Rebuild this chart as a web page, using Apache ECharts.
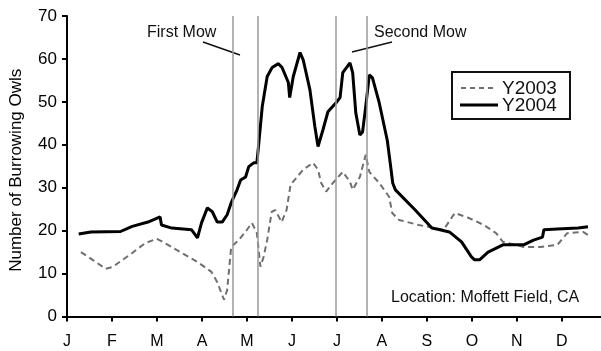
<!DOCTYPE html>
<html>
<head>
<meta charset="utf-8">
<script src="https://cdn.jsdelivr.net/npm/echarts@6/dist/echarts.min.js"></script>
<style>
html,body{margin:0;padding:0;background:#fff;}
#c{width:601px;height:351px;}
</style>
</head>
<body>
<div id="c"></div>
<script>
// Month tick labels (x axis in months since Jan 1)
const monthLabels = ['J','F','M','A','M','J','J','A','S','O','N','D'];
// Y2004 (solid)
const months2004 = [0.26,0.53,1.19,1.45,1.8,2.07,2.1,2.33,2.77,2.9,2.99,3.12,3.23,3.34,3.45,3.56,3.65,3.78,3.86,3.97,4.04,4.15,4.22,4.26,4.34,4.45,4.56,4.70,4.78,4.92,4.95,5.03,5.18,5.25,5.4,5.51,5.58,5.69,5.80,5.98,6.07,6.13,6.29,6.35,6.42,6.51,6.57,6.64,6.72,6.79,6.94,7.12,7.2,7.24,7.30,7.74,8.11,8.29,8.5,8.77,8.99,9.06,9.17,9.36,9.69,10.15,10.37,10.57,10.6,10.9,11.36,11.58];
const owls2004   = [19.2,19.7,19.8,21.0,22,23.2,21.3,20.6,20.2,18.3,21.8,25.3,24.4,22,22,23.7,26.5,29.5,31.8,32.5,34.9,35.8,35.8,40,48.9,55.9,58,58.9,58,54.5,51,55.9,61.5,59.8,52.8,44.2,39.6,43.5,47.7,49.8,51,56.8,59.1,56.8,47.4,42.3,43,48.9,56.3,55.6,49.8,41,34.5,31.1,29.5,24.8,20.6,20.2,19.7,17.4,13.9,13.2,13.2,15,16.7,16.7,17.8,18.5,20.2,20.4,20.6,20.9];
// Y2003 (dashed)
const months2003 = [0.31,0.57,0.86,1.01,1.45,1.74,2.0,2.18,2.55,2.9,3.21,3.34,3.49,3.56,3.65,3.82,4.0,4.11,4.22,4.3,4.37,4.45,4.55,4.63,4.77,4.88,4.97,5.25,5.47,5.58,5.65,5.76,5.91,6.13,6.29,6.35,6.51,6.64,6.72,6.94,7.16,7.23,7.38,7.82,8.18,8.37,8.62,8.92,9.27,9.54,9.69,10.15,10.53,10.9,11.12,11.47,11.58];
const owls2003   = [15,13.2,11.1,11.5,14.8,17.1,18.1,17.1,14.8,12.7,10.4,8.0,3.9,6.2,16.2,17.8,20.2,21.8,19.5,11.6,13.9,17.8,24.4,24.8,22,24.8,30.7,34.2,35.8,34.2,31.1,29.1,31.1,33.7,31.4,29.5,32.5,37.7,33.7,31.1,27.9,24.1,22.5,21.3,20.6,20.2,24.1,23,21.3,19.4,17.4,16.2,16.2,16.7,19.4,19.7,19];
// Mowing dates (vertical lines)
const mowDates = [3.69, 4.24, 5.98, 6.66];

const zip = (xs, ys) => xs.map((x, i) => [x, ys[i]]);
const FONT = '"Liberation Sans", Arial, sans-serif';

const chart = echarts.init(document.getElementById('c'), null, {renderer: 'canvas'});
chart.setOption({
  animation: false,
  backgroundColor: '#fff',
  grid: {left: 61, right: 0, top: 16, bottom: 34.5},
  xAxis: {
    type: 'value', min: 0, max: 11.87, interval: 1,
    axisLine: {show: true, lineStyle: {color: '#000', width: 2}},
    axisTick: {show: true, length: 5, lineStyle: {color: '#000', width: 2}},
    splitLine: {show: false},
    axisLabel: {
      margin: 17, color: '#000', fontSize: 16, fontFamily: FONT,
      showMaxLabel: false,
      formatter: v => monthLabels[Math.round(v)] || ''
    }
  },
  yAxis: {
    type: 'value', min: 0, max: 70, interval: 10,
    name: 'Number of Burrowing Owls', nameLocation: 'middle', nameGap: 42,
    nameTextStyle: {color: '#000', fontSize: 17, fontFamily: FONT, padding: [0, 0, 0, -8]},
    axisLine: {show: true, lineStyle: {color: '#000', width: 2}},
    axisTick: {show: true, length: 5, lineStyle: {color: '#000', width: 2}},
    splitLine: {show: false},
    axisLabel: {margin: 10, color: '#000', fontSize: 17, fontFamily: FONT}
  },
  series: [
    {
      name: 'Y2003', type: 'line', data: zip(months2003, owls2003),
      showSymbol: false, smooth: false,
      lineStyle: {color: '#6f6f6f', width: 2, type: [6, 4]},
      z: 3
    },
    {
      name: 'Y2004', type: 'line', data: zip(months2004, owls2004),
      showSymbol: false, smooth: false,
      lineStyle: {color: '#000', width: 3},
      z: 4,
      markLine: {
        silent: true, symbol: 'none', animation: false,
        label: {show: false},
        lineStyle: {color: '#999', width: 1.5, type: 'solid'},
        data: mowDates.map(d => ({xAxis: d}))
      }
    }
  ],
  graphic: [
    {type: 'text', left: 147, top: 25, style: {text: 'First Mow', font: '16px ' + FONT, fill: '#111'}},
    {type: 'line', shape: {x1: 203, y1: 42, x2: 240, y2: 55}, style: {stroke: '#111', lineWidth: 1.5}},
    {type: 'text', left: 374, top: 25, style: {text: 'Second Mow', font: '16px ' + FONT, fill: '#111'}},
    {type: 'line', shape: {x1: 352, y1: 52, x2: 392, y2: 42}, style: {stroke: '#111', lineWidth: 1.5}},
    {type: 'text', left: 391, top: 290, style: {text: 'Location: Moffett Field, CA', font: '16px ' + FONT, fill: '#111'}},
    // legend box
    {type: 'rect', shape: {x: 452, y: 72, width: 118, height: 47}, style: {fill: '#fff', stroke: '#111', lineWidth: 2}, z: 10},
    {type: 'line', shape: {x1: 461, y1: 88, x2: 494, y2: 88}, style: {stroke: '#6f6f6f', lineWidth: 2, lineDash: [5, 4]}, z: 11},
    {type: 'text', left: 502, top: 79, style: {text: 'Y2003', font: '19px ' + FONT, fill: '#111'}, z: 11},
    {type: 'line', shape: {x1: 460, y1: 105, x2: 498, y2: 105}, style: {stroke: '#000', lineWidth: 3}, z: 11},
    {type: 'text', left: 502, top: 96, style: {text: 'Y2004', font: '19px ' + FONT, fill: '#111'}, z: 11}
  ]
});
</script>
</body>
</html>
